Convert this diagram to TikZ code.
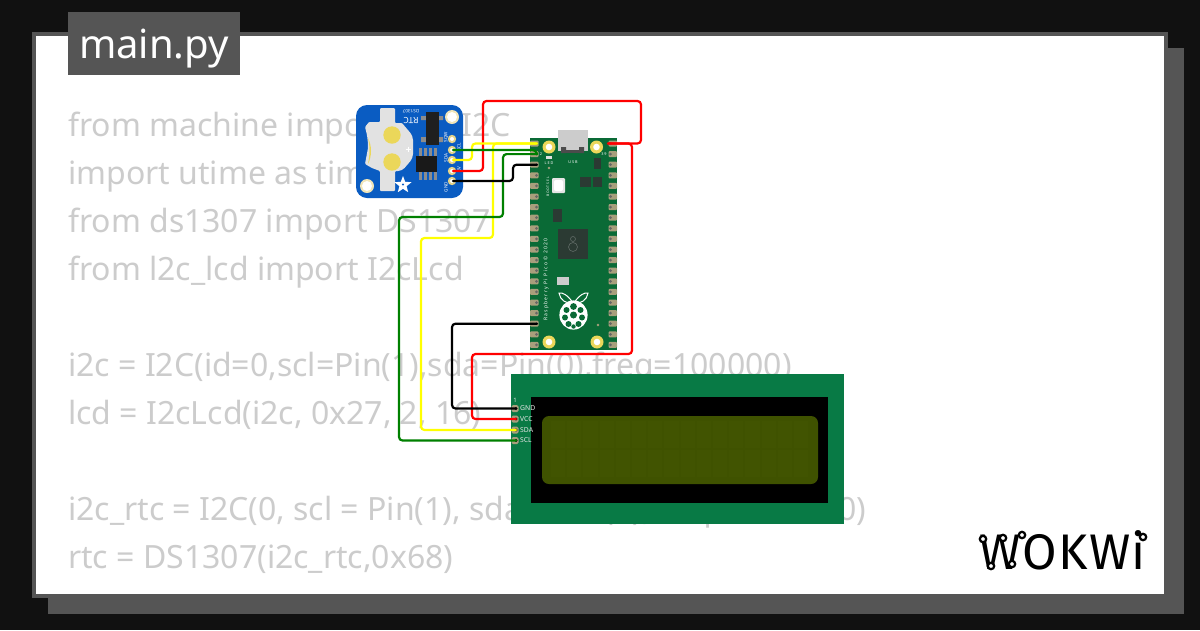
\documentclass[tikz,border=0pt]{standalone}
\usepackage{fontspec}
\setmainfont{Noto Sans}
\newfontfamily\logofont[LetterSpace=3]{Fira Sans}
\newfontfamily\pcbfont[LetterSpace=25]{Noto Sans}
\definecolor{bgdark}{HTML}{111111}
\definecolor{panel}{HTML}{555555}
\definecolor{codegrey}{HTML}{CCCCCC}
\definecolor{picogreen}{HTML}{0A6A36}
\definecolor{padtan}{HTML}{A89F7C}
\definecolor{lcdgreen}{HTML}{087A45}
\definecolor{lcdscreen}{HTML}{3F5200}
\definecolor{lcdcell}{HTML}{465A06}
\definecolor{rtcblue}{HTML}{0A5CC2}
\definecolor{holegold}{HTML}{EBD75A}
\definecolor{padcream}{HTML}{E6D48A}
\definecolor{chipdark}{HTML}{2B3A33}
\definecolor{holder}{HTML}{E2E2E2}
\definecolor{wgreen}{HTML}{008000}
\definecolor{wyellow}{HTML}{FFFF00}
\tikzset{
  wire/.style={line width=2.2pt,rounded corners=3.5pt,line cap=round},
  codeline/.style={anchor=base west,inner sep=0pt,text=codegrey,font=\fontsize{32}{32}\selectfont},
  pcbtiny/.style={inner sep=0pt,text=white,font=\pcbfont\fontsize{3.8}{3.8}\selectfont},
  rtctiny/.style={inner sep=0pt,text=white,font=\fontsize{4.6}{4.6}\selectfont},
  lcdlabel/.style={inner sep=0pt,anchor=west,text=white!90!black,font=\fontsize{6.8}{6.8}\selectfont},
  logopin/.style={draw=black,fill=white,line width=2.2pt},
}
\begin{document}
\begin{tikzpicture}[x=1pt,y=-1pt]
\useasboundingbox (0,0) rectangle (1200,630);
\fill[bgdark] (0,0) rectangle (1200,630);
\fill[panel] (48,48) rectangle (1184,614);
\fill[panel] (32,32) rectangle (1168,598);
\fill[white] (36,36) rectangle (1164,594);
% code
\node[codeline] (c1) at (68,136) {from machine import Pin, I2C};
\node[codeline] (c2) at (68,184) {import utime as time};
\node[codeline] (c3) at (68,232) {from ds1307 import DS1307};
\node[codeline] (c4) at (68,280) {from l2c\_lcd import I2cLcd};
\node[codeline] (c5) at (68,376) {i2c = I2C(id=0,scl=Pin(1),sda=Pin(0),freq=100000)};
\node[codeline] (c6) at (68,424) {lcd = I2cLcd(i2c, 0x27, 2, 16)};
\node[codeline] (c7) at (68,520) {i2c\_rtc = I2C(0, scl = Pin(1), sda = Pin(0),freq = 100000)};
\node[codeline] (c8) at (68,568) {rtc = DS1307(i2c\_rtc,0x68)};
% tab
\fill[panel] (68,12) rectangle (240,75);
\node[anchor=base,inner sep=0pt,text=white,font=\fontsize{40}{40}\selectfont] (tab) at (154,58) {main.py};
% logo
\node[anchor=base west,inner sep=0pt,text=black,font=\logofont\fontsize{50}{50}\selectfont] (logo) at (979,569) {WOKWi};
\foreach \x/\y in {983/539,1003/538,1022/535,991/566,1012/564,1143/537}{
  \fill[logopin] (\x,\y) circle (3.2);
}
% LCD
\fill[lcdgreen] (511,374) rectangle (844,524);
\fill[black] (531,397) rectangle (828,503);
\fill[lcdscreen,rounded corners=7pt] (542,416) rectangle (818,484);
\foreach \r in {0,1}{\foreach \c in {0,...,15}{
  \fill[lcdcell,opacity=.3] ({551+\c*16.2},{421+\r*29}) rectangle ++(14.2,27);
}}
\node[inner sep=0pt,text=white!90!black,font=\fontsize{6}{6}\selectfont] (one) at (515,400) {1};
\foreach \n/\y/\t in {gnd/408.5/GND,vcc/419/VCC,sda/430/SDA,scl/440.5/SCL}{
  \fill[padtan,rounded corners=1.5pt] (511.5,\y-3.5) rectangle (518.5,\y+3.5);
  \fill[black] (516,\y) circle (1.7);
  \coordinate (lcd\n) at (516,\y);
  \node[lcdlabel] (lbl\n) at (520,\y) {\t};
}
% RTC
\fill[rtcblue,rounded corners=11pt] (356,105) rectangle (463,198);
\fill[holder,rounded corners=1pt] (380,108) -- (395,108) -- (395,123) -- (402,123) [rounded corners=4pt] -- (413,136) -- (413,158) -- (402,171) [rounded corners=1pt] -- (395,171) -- (395,191) -- (380,191) -- (380,171) -- (372,168) -- (365,164) -- (368,148) .. controls (368,140) and (367,134) .. (365,127) -- (369,122) -- (380,122) -- cycle;
\fill[holegold] (368,138) .. controls (370,146) and (370,154) .. (368,164) .. controls (372,156) and (372,146) .. (368,138) -- cycle;
\fill[holegold] (392,135) circle (8.7);
\fill[holegold] (392,162) circle (8.7);
\draw[white,line width=1pt] (405.5,149) -- +(5,0) (408,146.5) -- +(0,5);
\fill[padcream!60!white] (367,186) circle (7);
\fill[white] (367,186) circle (5);
\fill[padcream!60!white] (452,117) circle (7);
\fill[white] (452,117) circle (5);
% crystal
\fill[black!45] (421,116) rectangle (443,120) (421,137) rectangle (443,142);
\fill[black!88] (426,112) rectangle (439,145);
% RTC chip
\foreach \x in {420,425,430,435}{
  \fill[black!45] (\x-1.5,148) rectangle (\x+1.5,180);
}
\fill[black!90] (416,156) rectangle (437,172);
% star
\fill[white] (403,176)
  -- (405.2,181.8) -- (411.5,182.2) -- (406.6,186.2) -- (408.2,192.2) -- (403,188.8) -- (397.8,192.2) -- (399.4,186.2) -- (394.5,182.2) -- (400.8,181.8) -- cycle;
\fill[rtcblue] (403,184.5) circle (1.1);
\node[rotate=180,inner sep=0pt,text=white,font=\fontsize{8.5}{8.5}\selectfont] (rtclbl) at (411,120.5) {RTC};
\node[rtctiny,rotate=180] (dslbl) at (411,111) {DS1307};
\foreach \n/\y in {sqw/139,scl/150,sda/160,five/171,gnd/181}{
  \fill[padcream] (452,\y) circle (4.2);
  \fill[white] (452,\y) circle (2);
  \coordinate (rtc\n) at (453,\y);
}
\node[rtctiny,rotate=90] (tsqw) at (446,137) {SQW};
\node[rtctiny,rotate=90] (tscl) at (459,147) {SCL};
\node[rtctiny,rotate=90] (tsda) at (446,158) {SDA};
\node[rtctiny,rotate=90] (tfive) at (459,169) {5V};
\node[rtctiny,rotate=90] (tgnd) at (446,187) {GND};
% Pico
\fill[picogreen] (530,138) rectangle (617,350);
\foreach \i in {1,...,20}{
  \pgfmathsetmacro{\py}{143.5+(\i-1)*10.6}
  \fill[padtan,rounded corners=1pt] (530,\py-3) rectangle (538.5,\py+3);
  \fill[padtan,rounded corners=1pt] (608.5,\py-3) rectangle (617,\py+3);
  \fill[black!60] (536.5,\py) circle (1.5);
  \fill[black!60] (610.5,\py) circle (1.5);
  \coordinate (pl\i) at (537,\py);
  \coordinate (pr\i) at (608,\py);
}
\fill[black!20] (558,130) rectangle (588,151);
\fill[black!70] (561,147) rectangle (566,153) (579,147) rectangle (584,153);
\fill[black!70] (564,150) rectangle (581,153);
\foreach \x/\y in {549/147,596.5/147,549/342,597/342}{
  \fill[holegold] (\x,\y) circle (6.5);
  \fill[white] (\x,\y) circle (3.3);
}
\fill[white!88!black] (546,156) rectangle (552,159);
\fill[padtan] (549,168) circle (1.3);
\fill[padtan] (598,325) circle (1.4);
\node[pcbtiny] (tled) at (549,163) {LED};
\node[pcbtiny] (tusb) at (573,162) {USB};
\node[pcbtiny] (tgp) at (604,154) {39};
\node[pcbtiny] (tgp2) at (541,154) {2};
\node[pcbtiny,rotate=90,font=\pcbfont\fontsize{3.4}{3.4}\selectfont] (tboot) at (548,187) {BOOTSEL};
\fill[black!10,rounded corners=1pt] (552,178) rectangle (565,193);
\fill[white,rounded corners=2pt] (554,180) rectangle (563,191);
\fill[chipdark] (580,177) rectangle (591,187);
\fill[chipdark] (593,177) rectangle (602,187);
\fill[chipdark] (594,158) rectangle (601,169);
\fill[chipdark] (553,209) rectangle (562,222);
\fill[chipdark] (558,229) rectangle (588,259);
\draw[chipdark!75!white,line width=.6pt] (573,247) circle (4.5) (573,239) circle (2.5);
\node[pcbtiny,rotate=90,font=\pcbfont\fontsize{5}{5}\selectfont] (tpico) at (546,279.5) {Raspberry Pi Pico © 2020};
\fill[black!20] (557,277) rectangle (569,285);
% raspberry logo
\draw[white,line width=1pt,fill=picogreen] (573,303) .. controls (568,295) and (562,292) .. (559,293) .. controls (560,300) and (566,304) .. (573,303);
\draw[white,line width=1pt,fill=picogreen] (574,303) .. controls (579,295) and (585,292) .. (588,293) .. controls (587,300) and (581,304) .. (574,303);
\draw[white,line width=1.2pt,fill=white] (573.5,315) ellipse (13.5 and 14);
\foreach \x/\y/\r in {573.5/306.5/3.4,566.5/310/3,580.5/310/3,573.5/315/3.5,565/317.5/3,582/317.5/3,568.5/324/3,578.5/324/3,573.5/326.5/2.2}{
  \fill[picogreen] (\x,\y) circle (\r);
}
% wires
\draw[wire,red] (rtcfive) -- (483,171) -- (483,101) -- (641,101) -- (641,143.5) -- (pr1);
\draw[wire,red] (pr1) -- (632,143.5) -- (632,354) -- (472,354) -- (472,419) -- (lcdvcc);
\draw[wire,black] (pl18) -- (452,323.7) -- (452,408.5) -- (lcdgnd);
\draw[wire,wyellow] (lcdsda) -- (421,430) -- (421,238) -- (493,238) -- (493,143.5) -- (pl1);
\draw[wire,wyellow] (rtcsda) -- (472,160) -- (472,143.5) -- (pl1);
\draw[wire,wgreen] (rtcscl) -- (536,150) -- (pl2);
\draw[wire,wgreen] (lcdscl) -- (399,440.5) -- (399,217) -- (503,217) -- (503,154.1) -- (pl2);
\draw[wire,black] (rtcgnd) -- (513,181) -- (513,164.7) -- (pl3);
\end{tikzpicture}
\end{document}
